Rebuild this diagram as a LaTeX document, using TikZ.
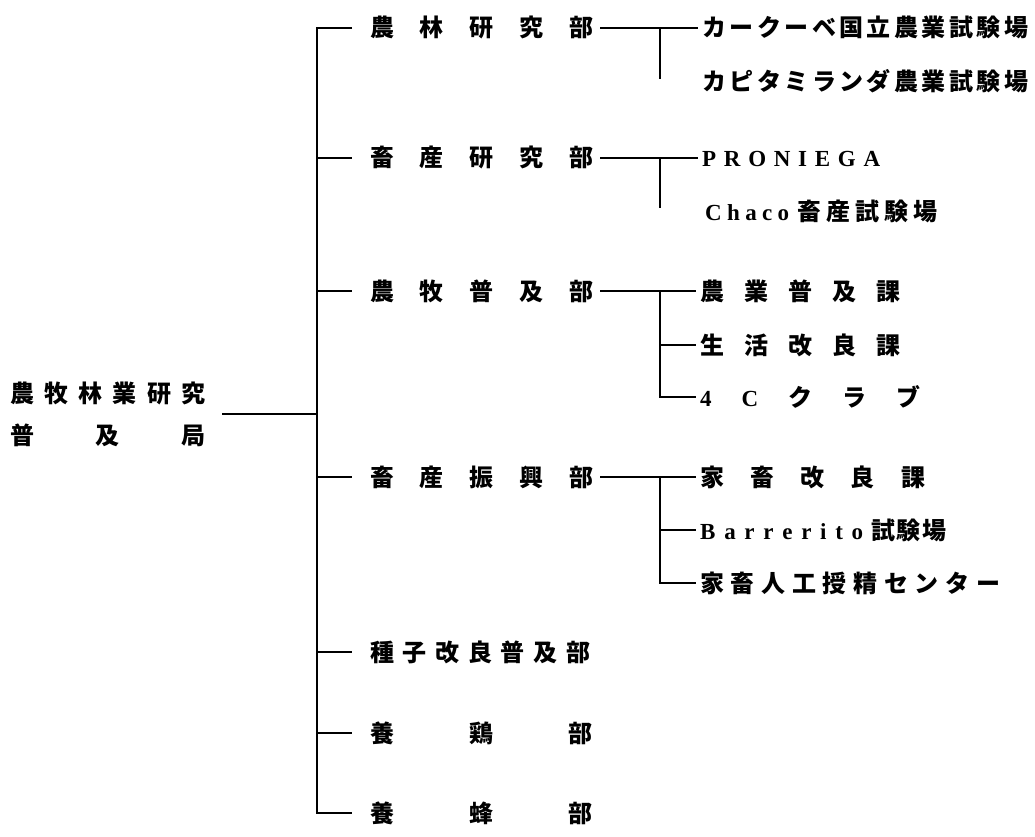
\documentclass[tikz,border=0pt]{standalone}
\usepackage{fontspec}
\newfontfamily\cjk{Noto Sans CJK JP}
\newfontfamily\lat{Liberation Serif}
\newcommand\latb{\lat\bfseries\fontsize{23}{23}\selectfont}
\makeatletter
\def\spr@end{}
\def\spr#1#2{\makebox[#1][s]{\spr@a#2\spr@end}}
\def\spr@a#1{\ifx#1\spr@end\else#1\expandafter\spr@b\fi}
\def\spr@b#1{\ifx#1\spr@end\else\hfill#1\expandafter\spr@b\fi}
\makeatother
\tikzset{
  lbl/.style={inner sep=0pt, anchor=west, font=\cjk\bfseries\fontsize{24}{24}\selectfont, text height=21pt, text depth=3pt},
  rootlbl/.style={inner sep=0pt, anchor=west, align=left, font=\cjk\bfseries\fontsize{24}{42}\selectfont},
  con/.style={line width=1.7pt},
  busline/.style={line width=2.3pt, line join=miter},
}
\begin{document}
\begin{tikzpicture}[x=1pt,y=-1pt]
\useasboundingbox[fill=white] (0,0) rectangle (1035,837);
% root
\node[rootlbl] (root) at (10,414) {\spr{195pt}{農牧林業研究}\\\spr{195pt}{普及局}};
% departments
\node[lbl] (d1) at (370,28) {\spr{223pt}{農林研究部}};
\node[lbl] (d2) at (370,158) {\spr{223pt}{畜産研究部}};
\node[lbl] (d3) at (370,291) {\spr{223pt}{農牧普及部}};
\node[lbl] (d4) at (370,477) {\spr{223pt}{畜産振興部}};
\node[lbl] (d5) at (370,652) {\spr{220pt}{種子改良普及部}};
\node[lbl] (d6) at (370,733) {\spr{222pt}{養鶏部}};
\node[lbl] (d7) at (370,813) {\spr{222pt}{養蜂部}};
% sub units
\node[lbl] (a1) at (702,28) {\spr{326pt}{カークーベ国立農業試験場}};
\node[lbl] (a2) at (702,82) {\spr{326pt}{カピタミランダ農業試験場}};
\node[lbl] (b1) at (702,158) {{\latb\spr{178pt}{PRONIEGA}}};
\node[lbl] (b2) at (705,211) {{\latb\spr{84pt}{Chaco}}\hspace{8pt}\spr{140pt}{畜産試験場}};
\node[lbl] (c1) at (700,291) {\spr{200pt}{農業普及課}};
\node[lbl] (c2) at (700,345) {\spr{200pt}{生活改良課}};
\node[lbl] (c3) at (700,397) {\makebox[220pt][s]{{\latb 4}\hfill{\latb C}\hfill ク\hfill ラ\hfill ブ}};
\node[lbl] (e1) at (700,477) {\spr{225pt}{家畜改良課}};
\node[lbl] (e2) at (700,530) {{\latb\spr{163pt}{Barrerito}}\hspace{8pt}\spr{75pt}{試験場}};
\node[lbl] (e3) at (700,583) {\spr{300pt}{家畜人工授精センター}};
% main bus
\coordinate (bus1) at ([xshift=-53pt]d1.west);
\coordinate (bus7) at ([xshift=-53pt]d7.west);
\draw[busline] ([xshift=-18pt]d1.west) -- (bus1) -- (bus7) -- ([xshift=-18pt]d7.west);
\foreach \n in {d2,d3,d4,d5,d6}
  \draw[con] ([xshift=-53pt]\n.west) -- ([xshift=-18pt]\n.west);
\draw[con] ([xshift=17pt]root.east) -- (root.east -| bus1);
% sub trees
\draw[con] ([xshift=7pt]d1.east) -- ([xshift=-4pt]a1.west);
\draw[busline] ([xshift=-42pt]a1.west) -- ([xshift=-42pt,yshift=3pt]a2.west);
\draw[con] ([xshift=7pt]d2.east) -- ([xshift=-4pt]b1.west);
\draw[busline] ([xshift=-42pt]b1.west) -- ([xshift=-45pt,yshift=3pt]b2.west);
\draw[con] ([xshift=7pt]d3.east) -- ([xshift=-4pt]c1.west);
\draw[busline] ([xshift=-40pt]c1.west) -- ([xshift=-40pt]c3.west) -- ([xshift=-4pt]c3.west);
\draw[con] ([xshift=-40pt]c2.west) -- ([xshift=-4pt]c2.west);
\draw[con] ([xshift=7pt]d4.east) -- ([xshift=-4pt]e1.west);
\draw[busline] ([xshift=-40pt]e1.west) -- ([xshift=-40pt]e3.west) -- ([xshift=-4pt]e3.west);
\draw[con] ([xshift=-40pt]e2.west) -- ([xshift=-4pt]e2.west);
\end{tikzpicture}
\end{document}
